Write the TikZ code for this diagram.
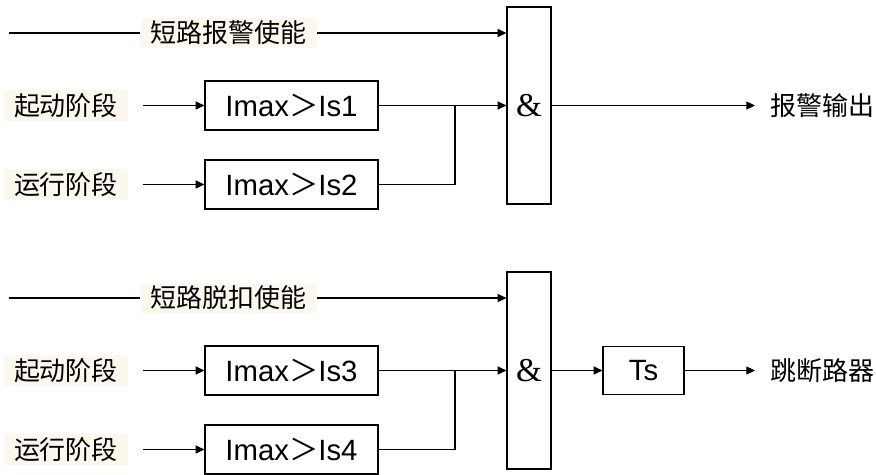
\documentclass[tikz,border=0pt]{standalone}
\usepackage{fontspec}
\setmainfont{Liberation Sans}
\newfontfamily\zhfont{Noto Sans CJK SC}
\newfontfamily\ampfont{Liberation Serif}
\usetikzlibrary{arrows.meta}
\definecolor{tagbg}{RGB}{253,248,238}

\begin{document}
\begin{tikzpicture}[x=0.75pt, y=-0.75pt, line width=0.9pt,
  >={Triangle[length=6.5pt,width=6pt]},
  logic/.style={draw, minimum width=129.75pt, minimum height=36.75pt, inner sep=0pt, font=\fontsize{22}{24}\selectfont},
  gate/.style={draw, minimum width=33pt, minimum height=147.75pt, inner sep=0pt, font=\ampfont\fontsize{25}{27}\selectfont},
  tag/.style={fill=tagbg, inner xsep=7.5pt, inner ysep=2.25pt, font=\zhfont\fontsize{19.5}{22}\selectfont},
  sig/.style={inner xsep=0pt, font=\zhfont\fontsize{19.5}{22}\selectfont}]
\useasboundingbox (0,0) rectangle (876,475);

% alarm part
\coordinate (inA) at (9,33);
\coordinate (jA) at (455,105.5);
\node[tag] (enA) at (228.5,33) {短路报警使能};
\node[tag] (stA) at (66,105.5) {起动阶段};
\node[tag] (runA) at (66,184.5) {运行阶段};
\node[logic] (cmpA1) at (291.5,105.5) {Imax{\zhfont ＞}Is1};
\node[logic] (cmpA2) at (291.5,184.5) {Imax{\zhfont ＞}Is2};
\node[gate] (andA) at (529,105.5) {\&};
\node[sig, anchor=west] (outA) at (770,105.5) {报警输出};
\draw (inA) -- (enA);
\draw[->] (enA) -- (andA.west |- enA);
\draw[->, shorten <=11pt] (stA) -- (cmpA1);
\draw[->, shorten <=11pt] (runA) -- (cmpA2);
\draw[->] (cmpA1) -- (andA);
\draw (cmpA2) -| (jA);
\draw[->, shorten >=11.25pt] (andA) -- (outA);

% trip part
\coordinate (inB) at (9,298);
\coordinate (jB) at (455,370.5);
\node[tag] (enB) at (228.5,298) {短路脱扣使能};
\node[tag] (stB) at (66,370.5) {起动阶段};
\node[tag] (runB) at (66,449.5) {运行阶段};
\node[logic] (cmpB1) at (291.5,370.5) {Imax{\zhfont ＞}Is3};
\node[logic] (cmpB2) at (291.5,449.5) {Imax{\zhfont ＞}Is4};
\node[gate] (andB) at (529,370.5) {\&};
\node[logic, minimum width=60.75pt, minimum height=36pt] (delay) at (643.5,370.5) {Ts};
\node[sig, anchor=west] (outB) at (770,370.5) {跳断路器};
\draw (inB) -- (enB);
\draw[->] (enB) -- (andB.west |- enB);
\draw[->, shorten <=11pt] (stB) -- (cmpB1);
\draw[->, shorten <=11pt] (runB) -- (cmpB2);
\draw[->] (cmpB1) -- (andB);
\draw (cmpB2) -| (jB);
\draw[->] (andB) -- (delay);
\draw[->, shorten >=11.25pt] (delay) -- (outB);
\end{tikzpicture}
\end{document}
